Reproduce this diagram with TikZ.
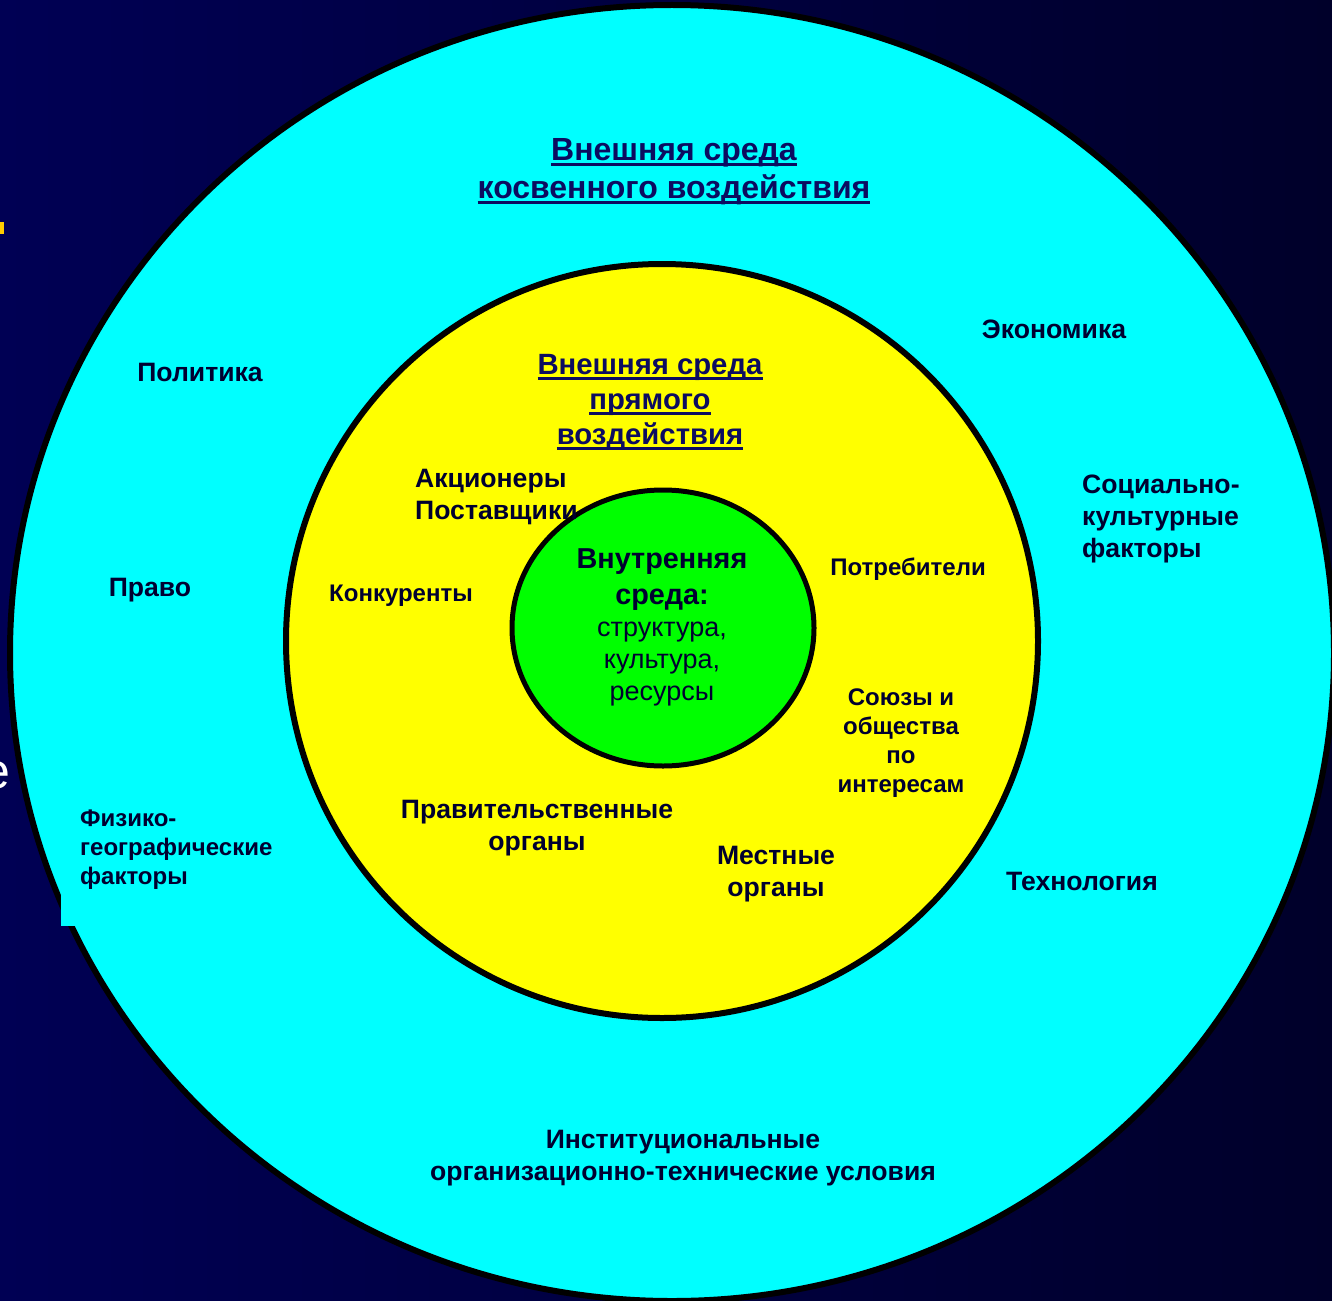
\documentclass[tikz,border=0pt]{standalone}
\usepackage{fontspec}
\setmainfont{Liberation Sans}
\definecolor{fondoL}{RGB}{0,0,84}
\definecolor{fondoR}{RGB}{0,0,42}
\definecolor{cian}{RGB}{0,255,255}
\definecolor{amarillo}{RGB}{255,255,0}
\definecolor{verde}{RGB}{0,255,0}
\definecolor{tinta}{RGB}{0,0,48}
\definecolor{titulo}{RGB}{12,12,96}
\definecolor{marca}{RGB}{255,204,0}
% subrayado a altura fija
\newcommand{\subr}[1]{\leavevmode\setbox0\hbox{#1}\rlap{\vrule height -2.5pt depth 5.5pt width \wd0}\box0}
\tikzset{
  lbl/.style={text=tinta, font=\bfseries\fontsize{26.6}{32}\selectfont, align=center, inner sep=0pt},
  lblp/.style={lbl, font=\bfseries\fontsize{24}{29}\selectfont},
  tit/.style={text=titulo, font=\bfseries\fontsize{32}{38}\selectfont, align=center, inner sep=0pt},
}
\begin{document}
\begin{tikzpicture}[x=1pt,y=-1pt]
  \useasboundingbox (0,0) rectangle (1332,1300);
  % Fondo
  \shade[left color=fondoL, right color=fondoR] (0,0) rectangle (1332,1300);
  \fill[marca] (0,222) rectangle (4,234);
  \node[text=white, font=\fontsize{50}{50}\selectfont, anchor=base east, inner sep=0pt] (e) at (11,788) {e};

  % Circulos
  \draw[line width=6pt, fill=cian] (672,653) ellipse [x radius=662, y radius=648];
  \fill[cian] (61,800) rectangle (280,926);
  \draw[line width=6pt, fill=amarillo] (662,641) ellipse [x radius=376, y radius=377];
  \draw[line width=5pt, fill=verde] (663,628) ellipse [x radius=151, y radius=138];

  % Nodos
  \node[tit] (indirecta) at (674,172) {\subr{Внешняя среда}\\\subr{косвенного воздействия}};
  \node[lbl] (pol) at (200,372) {Политика};
  \node[lbl] (eco) at (1054,329) {Экономика};
  \node[lbl, align=left, anchor=west] (soc) at (1082,519) {Социально-\\культурные\\факторы};
  \node[lbl] (der) at (150,590) {Право};
  \node[lblp, align=left, anchor=west] (fis) at (80,850) {Физико-\\географические\\факторы};
  \node[lbl] (tec) at (1082,881) {Технология};
  \node[lbl] (inst) at (683,1158) {Институциональные\\организационно-технические условия};

  \node[tit, font=\bfseries\fontsize{29.3}{35}\selectfont] (directa) at (650,402) {\subr{Внешняя среда}\\\subr{прямого}\\\subr{воздействия}};
  \node[lbl, align=left, anchor=west] (acc) at (415,497) {Акционеры\\Поставщики};
  \node[lblp] (comp) at (401,596) {Конкуренты};
  \node[lblp] (cons) at (908,569) {Потребители};
  \node[lblp] (sind) at (901,743) {Союзы и\\общества\\по\\интересам};
  \node[lbl] (gob) at (537,828) {Правительственные\\органы};
  \node[lbl] (loc) at (776,874) {Местные\\органы};

  \node[lbl, font=\fontsize{27}{32}\selectfont] (interna) at (662,627)
    {\textbf{\fontsize{28.8}{36}\selectfont Внутренняя}\\[4pt]\textbf{\fontsize{28.8}{35}\selectfont среда:}\\структура,\\культура,\\ресурсы};
\end{tikzpicture}
\end{document}
